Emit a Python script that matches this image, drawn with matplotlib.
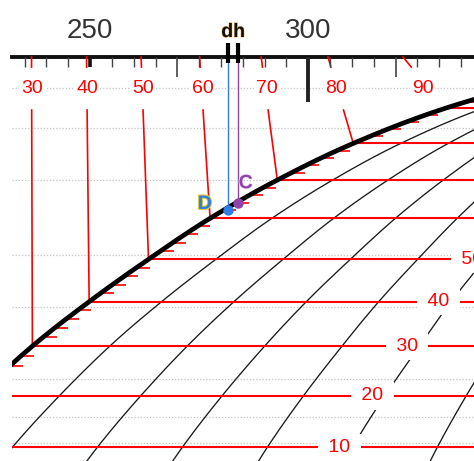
import numpy as np
import matplotlib
matplotlib.use("Agg")
import matplotlib.pyplot as plt
import matplotlib.patheffects as pe
from matplotlib.ticker import NullLocator

plt.rcParams['font.family'] = ['Liberation Sans', 'DejaVu Sans']

# ---------------- data (p-h chart, liquid side) ----------------
temps  = [0, 10, 20, 30, 40, 50, 60, 70, 80, 90, 100]                                   # degC
p_sat  = [2.93, 4.15, 5.67, 7.67, 10.04, 12.98, 16.64, 20.98, 26.20, 32.39, 39.7]       # bar
h_liq  = [201.5, 212.7, 224.3, 236.8, 249.8, 263.4, 277.5, 292.9, 310.3, 331.3, 358.3]  # kJ/kg
h_evap = [202.5, 194.7, 186.4, 177.3, 165.8, 154.1, 141.5, 126.7, 108.8, 86.6, 60.0]    # kJ/kg
qualities = [0.1, 0.2, 0.3, 0.4, 0.5, 0.6, 0.7, 0.8, 0.9]

iso_two_phase = [10, 20, 30, 40, 50, 60, 70, 80, 90]
iso_right_labels = [10, 20, 30, 40, 50]
label_quality = 0.5
iso_liquid = [30, 40, 50, 60, 70, 80, 90]
iso_liquid_h_top = [236.6, 249.2, 261.7, 275.1, 289.2, 304.5, 321.7]
iso_liquid_label_h = [236.7, 249.3, 262.1, 275.8, 290.5, 306.3, 326.2]

h_major = [250, 300]
h_medium = [270, 320]
h_minor = list(range(235, 340, 5))

p_grid = [36.6, 28.8, 21.0, 13.3, 9.7, 6.3, 5.0, 4.26]

pt_names = ['D', 'C']
pt_h = [281.7, 283.9]
pt_p = [17.50, 18.31]
pt_colors = ['#2f7de1', '#8e44ad']

h_range = (232.13, 337.95)
p_range = (3.8235, 44.22)
p_label_row = 36.6
p_tick_end = 41.6
p_line_start = 32.07


def hermite(t_nodes, y_nodes, t_eval):
    t = np.asarray(t_nodes, float)
    y = np.asarray(y_nodes, float)
    m = np.gradient(y, t)
    t_eval = np.asarray(t_eval, float)
    idx = np.clip(np.searchsorted(t, t_eval, side='right') - 1, 0, len(t) - 2)
    t0, t1 = t[idx], t[idx + 1]
    hh = t1 - t0
    s = (t_eval - t0) / hh
    h00 = 2 * s**3 - 3 * s**2 + 1
    h10 = s**3 - 2 * s**2 + s
    h01 = -2 * s**3 + 3 * s**2
    h11 = s**3 - s**2
    return h00 * y[idx] + h10 * hh * m[idx] + h01 * y[idx + 1] + h11 * hh * m[idx + 1]


fig = plt.figure(figsize=(4.74, 4.61), dpi=100)
AX_H = 404.0
ax = fig.add_axes([12 / 474, 0, 462 / 474, AX_H / 461])
ax.set_xlim(*h_range)
ax.set_yscale('log')
ax.set_ylim(*p_range)
for s in ['left', 'right', 'bottom']:
    ax.spines[s].set_visible(False)
ax.spines['top'].set_linewidth(2.8)
ax.spines['top'].set_color('#111111')

ax.xaxis.tick_top()
ax.set_xticks(h_major)
ax.set_xticklabels([str(v) for v in h_major])
ax.tick_params(axis='x', which='both', length=0, pad=9, labelsize=20, labelcolor='#333333',
               bottom=False, labelbottom=False)
ax.tick_params(axis='y', which='both', left=False, right=False, labelleft=False)
ax.yaxis.set_minor_locator(NullLocator())


def frac(px):
    return 1 - px / AX_H


xt = ax.get_xaxis_transform()
small = [h for h in h_minor if h not in h_major + h_medium]
ax.vlines(small, frac(10), 1, transform=xt, color='#444444', lw=1.0, zorder=5)
ax.vlines(h_medium, frac(20), 1, transform=xt, color='#444444', lw=1.2, zorder=5)
ax.vlines([h_major[0]], frac(10), 1, transform=xt, color='#111111', lw=2.6, zorder=5)
ax.vlines([h_major[1]], frac(45), 1, transform=xt, color='#222222', lw=2.8, zorder=5)

# pressure grid
for p in p_grid:
    ax.axhline(p, color='#c4c4c4', lw=0.9, ls=(0, (1, 1.5)), zorder=0.5)

T_fine = np.linspace(temps[0], temps[-1], 801)
lp_sat = np.log10(p_sat)
sat_h = hermite(temps, h_liq, T_fine)
sat_p = 10 ** hermite(temps, lp_sat, T_fine)

# quality lines
for q in qualities:
    hq = [hl + q * r for hl, r in zip(h_liq, h_evap)]
    ax.plot(hermite(temps, hq, T_fine), sat_p, color='#1a1a1a', lw=0.95, zorder=2)

# two-phase isotherms
for T in iso_two_phase:
    i = temps.index(T)
    ax.plot([h_liq[i], h_liq[i] + h_evap[i]], [p_sat[i]] * 2, color='red', lw=1.5, zorder=3)

# minor isotherm ticks along saturation line
T_minor = np.array([t for t in range(2, 100, 2) if t % 10])
hm = hermite(temps, h_liq, T_minor)
pm = 10 ** hermite(temps, lp_sat, T_minor)
ax.hlines(pm, hm, hm + 3.0, color='red', lw=1.2, zorder=3.5)

# saturation line
ax.plot(sat_h, sat_p, color='black', lw=3.4, zorder=4, solid_capstyle='butt')

# liquid isotherms
lp_top = np.log10(p_range[1])
for T, ht in zip(iso_liquid, iso_liquid_h_top):
    i = temps.index(T)
    hs, lps = h_liq[i], lp_sat[i]

    def h_at(p):
        return ht + (hs - ht) * (lp_top - np.log10(p)) / (lp_top - lps)

    ax.plot([ht, h_at(p_tick_end)], [p_range[1], p_tick_end], color='red', lw=1.2, zorder=3,
            clip_on=False)
    if p_line_start > p_sat[i]:
        ax.plot([h_at(p_line_start), hs], [p_line_start, p_sat[i]], color='red', lw=1.2, zorder=3)

for T, hl in zip(iso_liquid, iso_liquid_label_h):
    ax.text(hl, p_label_row, str(T), color='red', fontsize=14, ha='center', va='center', zorder=6,
            bbox=dict(boxstyle='square,pad=0.1', fc='white', ec='none'))

for T in iso_right_labels:
    i = temps.index(T)
    ax.annotate(f' {T} ', xy=(h_liq[i] + label_quality * h_evap[i], p_sat[i]),
                xytext=(-9, 0), textcoords='offset points', color='red', fontsize=14,
                ha='center', va='center', zorder=10, annotation_clip=False,
                bbox=dict(boxstyle='square,pad=0.26', fc='white', ec='none'))

# state points
for name, h, p, c in zip(pt_names, pt_h, pt_p, pt_colors):
    ax.plot([h, h], [p, p_range[1]], color=c, lw=1.0, zorder=7)
    ax.plot([h], [p], 'o', ms=7.5, color=c, mec='none', zorder=8)

ax.annotate(pt_names[0], xy=(pt_h[0], pt_p[0]), xytext=(-17, 4), textcoords='offset points',
            color=pt_colors[0], fontsize=14, fontweight='bold', ha='center', va='center', zorder=9,
            path_effects=[pe.withStroke(linewidth=1.6, foreground='#d8c840')])
ax.annotate(pt_names[1], xy=(pt_h[1], pt_p[1]), xytext=(5.5, 13.5), textcoords='offset points',
            color=pt_colors[1], fontsize=14, fontweight='bold', ha='center', va='center', zorder=9,
            path_effects=[pe.withStroke(linewidth=1.2, foreground='#efe3f5')])

# dh marker on the enthalpy scale
ax.vlines(pt_h, frac(6), 1 + 14 / AX_H, transform=xt, color='black', lw=3.0, zorder=9, clip_on=False)
ax.text(np.mean(pt_h), 1 + 20 / AX_H, 'dh', transform=xt, ha='center', va='baseline', fontsize=14,
        fontweight='bold', color='#111111', zorder=9,
        path_effects=[pe.withStroke(linewidth=0.8, foreground='#f0c070')])

fig.savefig('out.png', dpi=100)
